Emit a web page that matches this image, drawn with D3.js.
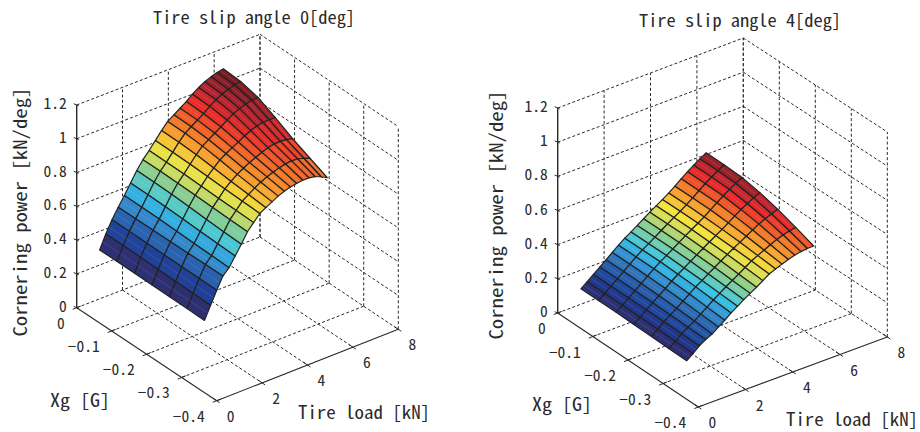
<!DOCTYPE html>
<html><head><meta charset="utf-8">
<style>
html,body{margin:0;padding:0;background:#fff}
text{font-family:"Noto Sans CJK JP","Noto Sans",sans-serif;font-feature-settings:"hwid";fill:#2a2a2a}
</style>
<script src="https://cdn.jsdelivr.net/npm/d3@7/dist/d3.min.js"></script>
</head><body><svg id="c" width="920" height="432"></svg>
<script>
const xgTicks=[0,-0.1,-0.2,-0.3,-0.4];
const loadTicks=[0,2,4,6,8];
const zTicks=[0,0.2,0.4,0.6,0.8,1,1.2];
const xgValues=[0,-0.05,-0.1,-0.15,-0.2,-0.25,-0.3];
const loadValues=[1,1.27,1.54,1.81,2.08,2.35,2.62,2.89,3.16,3.43,3.7,3.97,4.24,4.51,4.78,5.05,5.32,5.59,5.86,6.13,6.4];
const zSlip0=[
[.29,.37,.44,.50,.555,.615,.675,.725,.765,.81,.855,.895,.92,.945,.97,1.00,1.025,1.045,1.06,1.072,1.08],
[.29,.37,.44,.50,.555,.614,.674,.725,.765,.809,.854,.893,.918,.943,.967,.996,1.021,1.04,1.055,1.066,1.073],
[.289,.369,.439,.501,.553,.612,.672,.723,.763,.807,.849,.886,.91,.934,.957,.983,1.006,1.023,1.035,1.043,1.047],
[.288,.366,.438,.502,.55,.608,.666,.72,.76,.803,.839,.872,.895,.916,.936,.958,.975,.988,.995,.997,.995],
[.287,.364,.437,.503,.546,.603,.66,.716,.756,.798,.828,.856,.878,.897,.913,.929,.942,.95,.952,.948,.939],
[.286,.362,.436,.504,.543,.599,.655,.713,.753,.794,.819,.843,.864,.881,.894,.906,.915,.919,.916,.906,.892],
[.285,.36,.435,.505,.54,.595,.65,.71,.75,.79,.81,.83,.85,.865,.875,.882,.887,.887,.88,.865,.845]];
const zSlip4=[
[.09,.118,.147,.176,.205,.234,.263,.29,.313,.337,.362,.387,.41,.433,.457,.484,.513,.54,.565,.588,.61],
[.09,.118,.147,.176,.205,.234,.263,.29,.313,.337,.362,.387,.41,.433,.457,.484,.512,.539,.564,.587,.609],
[.09,.118,.147,.175,.204,.233,.262,.289,.312,.336,.361,.386,.409,.432,.455,.482,.51,.536,.56,.582,.603],
[.088,.116,.146,.174,.201,.229,.258,.285,.308,.333,.357,.382,.405,.428,.451,.475,.501,.525,.546,.566,.583],
[.087,.115,.145,.171,.196,.224,.252,.28,.303,.328,.352,.376,.4,.423,.444,.466,.488,.509,.526,.541,.554],
[.084,.112,.144,.168,.19,.217,.244,.272,.297,.322,.345,.368,.393,.417,.435,.453,.471,.487,.5,.51,.517],
[.082,.11,.142,.165,.183,.21,.236,.265,.29,.315,.338,.36,.385,.41,.425,.44,.453,.465,.472,.476,.477]];
const colorStops=[0,.07,.14,.22,.3,.37,.44,.5,.56,.62,.7,.78,.86,.93,1];
const colorValues=["#2e2f70","#20388f","#1f4ea3","#2f6db5","#3399d8","#35c4e6","#6fcdb0","#90d088","#cfdc5e","#f3e33c","#f8a832","#f27028","#ec2c2a","#b82430","#6e1c22"];
const titles=["Tire slip angle 0[deg]","Tire slip angle 4[deg]"];

const panels=[
 {z:zSlip0,title:titles[0],O:[76.7,307.7],F:[216.7,400.7],R:[398.3,329.3],B:[260,237],h:202.7,tx:254,ty:24,zlx:19,zly:212,xgl:[80,399],ll:[364,411]},
 {z:zSlip4,title:titles[1],O:[557.7,313],F:[698.3,407],R:[887.3,337],B:[743.3,243],h:205,tx:740,ty:27,zlx:495,zly:215,xgl:[562,403],ll:[852,418]}
];
const svg=d3.select("#c");
const aS=d3.scaleLinear().domain([0,-0.4]).range([0,1]);
const bS=d3.scaleLinear().domain([0,8]).range([0,1]);
const lineGen=d3.line();
const cmap=d3.scaleLinear().domain(colorStops).range(colorValues).clamp(true);

panels.forEach(p=>{
 const g=svg.append("g");
 const zS=d3.scaleLinear().domain([0,1.2]).range([0,p.h]);
 const P=(xg,l,z)=>{
  const a=aS(xg),b=bS(l);
  const m=(i)=>p.O[i]*(1-a)*(1-b)+p.F[i]*a*(1-b)+p.R[i]*a*b+p.B[i]*(1-a)*b;
  return [m(0),m(1)-zS(z)];
 };
 const dash=(pts)=>g.append("path").attr("d",lineGen(pts)).attr("fill","none").attr("stroke","#2a2a2a").attr("stroke-width",1).attr("stroke-dasharray","3 2.2");
 const xg0=xgTicks[0],xgN=xgTicks[xgTicks.length-1],l0=loadTicks[0],lN=loadTicks[loadTicks.length-1],zN=zTicks[zTicks.length-1];
 loadTicks.forEach(l=>{ if(l>l0) dash([P(xg0,l,0),P(xgN,l,0)]); });
 xgTicks.forEach(x=>{ if(x>xgN) dash([P(x,l0,0),P(x,lN,0)]); });
 loadTicks.forEach(l=>{ if(l>l0) dash([P(xg0,l,0),P(xg0,l,zN)]); });
 xgTicks.forEach(x=>dash([P(x,lN,0),P(x,lN,zN)]));
 zTicks.forEach(z=>{ if(z>0){dash([P(xg0,l0,z),P(xg0,lN,z)]);dash([P(xg0,lN,z),P(xgN,lN,z)]);} });
 const zAll=p.z.flat(),zmin=d3.min(zAll),zmax=d3.max(zAll);
 const tS=d3.scaleLinear().domain([zmin,zmax]).range([0,1]);
 const surf=g.append("g");
 const mid=(u,v)=>[(u[0]+v[0])/2,(u[1]+v[1])/2];
 for(let k=0;k<xgValues.length-1;k++){
  for(let i=loadValues.length-2;i>=0;i--){
   const c=[P(xgValues[k],loadValues[i],p.z[k][i]),P(xgValues[k],loadValues[i+1],p.z[k][i+1]),P(xgValues[k+1],loadValues[i+1],p.z[k+1][i+1]),P(xgValues[k+1],loadValues[i],p.z[k+1][i])];
   surf.append("path").attr("d",lineGen(c)+"Z").attr("fill",cmap(tS(p.z[k][i]))).attr("stroke","#222").attr("stroke-width",1.2).attr("stroke-linejoin","round");
   surf.append("path").attr("d",lineGen([mid(c[0],c[1]),mid(c[2],c[3])])).attr("fill","none").attr("stroke","#fff").attr("stroke-width",.7).attr("stroke-opacity",.16);
  }
 }
 const solid=(pts,w)=>g.append("path").attr("d",lineGen(pts)).attr("fill","none").attr("stroke","#2a2a2a").attr("stroke-width",w);
 solid([P(xg0,l0,0),P(xg0,l0,zN)],1.4);
 solid([P(xg0,l0,0),P(xgN,l0,0)],1.1);
 solid([P(xgN,l0,0),P(xgN,lN,0)],1.1);
 zTicks.forEach(z=>{const q=P(xg0,l0,z);solid([[q[0]-3,q[1]-1.3],[q[0]+2,q[1]+.8]],1);
   g.append("text").attr("x",q[0]-10).attr("y",q[1]-3).attr("text-anchor","end").attr("dominant-baseline","central").attr("font-size",15.5).text(d3.format("~g")(z));});
 xgTicks.forEach(x=>{const q=P(x,l0,0);solid([[q[0]-4,q[1]+1.6],[q[0]+4,q[1]-1.6]],1);
   g.append("text").attr("x",q[0]-12).attr("y",q[1]+14).attr("text-anchor","end").attr("dominant-baseline","central").attr("font-size",15.5).text(x===0?"0":"\u2212"+d3.format(".1f")(-x));});
 loadTicks.forEach(l=>{const q=P(xgN,l,0);solid([[q[0]-4,q[1]-2.7],[q[0]+3,q[1]+2]],1);
   g.append("text").attr("x",q[0]+14).attr("y",q[1]+14).attr("text-anchor","middle").attr("dominant-baseline","central").attr("font-size",15.5).text(l);});
 g.append("text").attr("x",p.tx).attr("y",p.ty).attr("text-anchor","middle").attr("font-size",17.5).attr("textLength",202).attr("lengthAdjust","spacingAndGlyphs").text(p.title);
 g.append("text").attr("transform",`translate(${p.zlx},${p.zly}) rotate(-90)`).attr("text-anchor","middle").attr("dominant-baseline","central").attr("font-size",18).attr("textLength",249).attr("lengthAdjust","spacingAndGlyphs").text("Cornering power [kN/deg]");
 g.append("text").attr("x",p.xgl[0]).attr("y",p.xgl[1]).attr("text-anchor","middle").attr("dominant-baseline","central").attr("font-size",18).attr("textLength",60).attr("lengthAdjust","spacingAndGlyphs").text("Xg [G]");
 g.append("text").attr("x",p.ll[0]).attr("y",p.ll[1]).attr("text-anchor","middle").attr("dominant-baseline","central").attr("font-size",18).attr("textLength",132).attr("lengthAdjust","spacingAndGlyphs").text("Tire load [kN]");
});
</script></body></html>
